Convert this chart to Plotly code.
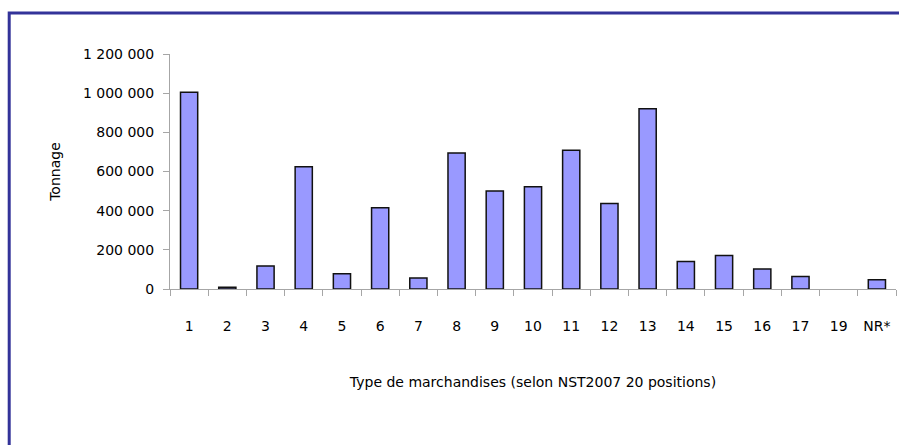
import plotly.graph_objects as go

# Goods categories (NST2007, 20 positions) and tonnage per category
categories = ["1", "2", "3", "4", "5", "6", "7", "8", "9", "10",
              "11", "12", "13", "14", "15", "16", "17", "19", "NR*"]
tonnage = [1005000, 9000, 118000, 624000, 78000, 415000, 56000, 695000,
           500000, 522000, 709000, 437000, 921000, 140000, 171000,
           102000, 64000, 0, 47000]
y_ticks = [0, 200000, 400000, 600000, 800000, 1000000, 1200000]

W, H = 899, 445
L, R, T, B = 170, 3, 53.5, 155.7
plot_w = W - L - R
plot_h = H - T - B

font = dict(family="DejaVu Sans", size=14, color="#000000")

# empty categories get no outline, so nothing is drawn for them
outline_widths = [1.5 if v > 0 else 0 for v in tonnage]

fig = go.Figure(
    go.Bar(
        x=categories,
        y=tonnage,
        marker=dict(color="#9999FF",
                    line=dict(color="#111111", width=outline_widths)),
        width=0.45,
        hoverinfo="x+y",
    )
)

axis_gray = "#A6A6A6"

fig.update_layout(
    width=W,
    height=H,
    margin=dict(l=L, r=R, t=T, b=B, pad=0),
    paper_bgcolor="white",
    plot_bgcolor="white",
    showlegend=False,
    separators=", ",
    font=font,
    xaxis=dict(
        type="category",
        showgrid=False,
        showline=True,
        linecolor=axis_gray,
        linewidth=1,
        ticks="outside",
        tickson="boundaries",
        ticklen=6,
        tickcolor=axis_gray,
        tickfont=font,
        ticklabelstandoff=24,
        title=dict(text="Type de marchandises (selon NST2007 20 positions)",
                   font=font, standoff=44),
    ),
    yaxis=dict(
        range=[0, 1200000],
        tickvals=y_ticks,
        tickformat=",.0f",
        showgrid=False,
        zeroline=False,
        showline=True,
        linecolor=axis_gray,
        linewidth=1,
        ticks="outside",
        ticklen=6,
        tickcolor=axis_gray,
        tickfont=font,
        ticklabelstandoff=6,
        title=dict(text="Tonnage", font=font, standoff=19),
    ),
)

# Dark blue frame along the top and left edges of the chart
fx0 = (9.2 - L) / plot_w
fy1 = (H - B - 12.3) / plot_h
fig.add_shape(
    type="rect", xref="paper", yref="paper",
    x0=fx0, x1=1.2, y0=-1.0, y1=fy1,
    line=dict(color="#333399", width=3),
    fillcolor="rgba(0,0,0,0)",
    layer="below",
)

fig.write_html("out.html")
